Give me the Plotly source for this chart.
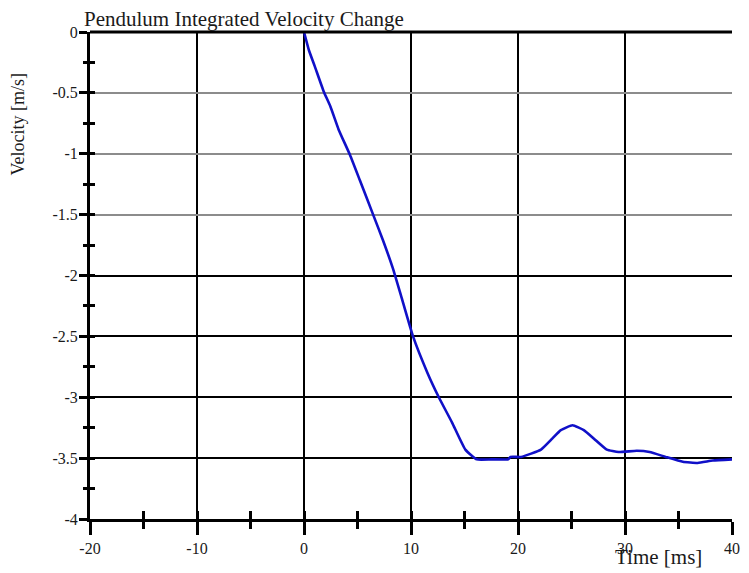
import plotly.graph_objects as go

# Data
time_ms = [0, 0.46, 1.0, 1.85, 2.46, 3.23, 4.3, 5.23, 6.46, 7.38, 8.3, 9.08, 10.15,
           11.54, 12.6, 13.85, 15.08, 16.15, 17.5, 19.08, 19.3, 20.3, 22.15, 23.2, 24.0,
           25.1, 26.15, 27.1, 28.3, 29.4, 31.1, 32.3, 33.8, 35.4, 36.8, 38.2, 40.0]
velocity = [0, -0.15, -0.28, -0.49, -0.61, -0.80, -1.01, -1.22, -1.50, -1.71, -1.94,
            -2.17, -2.49, -2.80, -3.00, -3.21, -3.43, -3.51, -3.51, -3.51, -3.49, -3.49,
            -3.43, -3.34, -3.27, -3.23, -3.27, -3.34, -3.43, -3.45, -3.44, -3.45, -3.49,
            -3.53, -3.54, -3.52, -3.51]

x_ticks = [-20, -10, 0, 10, 20, 30, 40]
y_ticks = [0, -0.5, -1, -1.5, -2, -2.5, -3, -3.5, -4]
y_dark_grid = [-2, -2.5, -3, -3.5]

title_text = "Pendulum Integrated Velocity Change"
x_title = "Time [ms]"
y_title = "Velocity [m/s]"

FONT = "Liberation Serif, Times New Roman, serif"

fig = go.Figure()
fig.add_trace(go.Scatter(x=time_ms, y=velocity, mode="lines",
                         line=dict(color="#1010c8", width=2.6, shape="spline", smoothing=0.4),
                         showlegend=False, hoverinfo="skip"))
# helper empty traces so the overlay axes are drawn
fig.add_trace(go.Scatter(x=[], y=[], xaxis="x2", yaxis="y2", showlegend=False))
fig.add_trace(go.Scatter(x=[], y=[], xaxis="x", yaxis="y3", showlegend=False))

fig.update_layout(
    width=741, height=565,
    margin=dict(l=82, r=9, t=24, b=54),
    paper_bgcolor="white", plot_bgcolor="white",
    font=dict(family=FONT, color="#1a1a1a", size=16),
    xaxis=dict(range=[-20, 40], tickvals=x_ticks, ticktext=[str(v) for v in x_ticks],
               showline=True, linecolor="black", linewidth=3,
               ticks="outside", ticklen=13, tickwidth=3, tickcolor="black",
               minor=dict(dtick=5, tick0=0, ticks="outside", ticklen=7, tickwidth=3,
                          tickcolor="black", showgrid=False),
               showgrid=True, gridcolor="black", gridwidth=2, zeroline=False,
               tickfont=dict(family=FONT, size=16, color="#1a1a1a")),
    xaxis2=dict(range=[-20, 40], overlaying="x", side="bottom", anchor="y",
                dtick=5, tick0=0, ticks="inside", ticklen=8, tickwidth=3,
                tickcolor="black", showticklabels=False, showgrid=False,
                zeroline=False, showline=False),
    yaxis=dict(range=[-4, 0], tickvals=y_ticks, ticktext=[("%g" % v) for v in y_ticks],
               showline=True, linecolor="black", linewidth=3,
               ticks="outside", ticklen=8, tickwidth=3, tickcolor="black",
               minor=dict(dtick=0.25, tick0=0, ticks="outside", ticklen=4,
                          tickwidth=3, tickcolor="black", showgrid=False),
               showgrid=True, gridcolor="#8c8c8c", gridwidth=1.5, zeroline=False,
               ticklabelstandoff=-2,
               tickfont=dict(family=FONT, size=16, color="#1a1a1a")),
    yaxis2=dict(range=[-4, 0], overlaying="y", side="left", anchor="x",
                dtick=0.25, tick0=0, ticks="inside", ticklen=5, tickwidth=3,
                tickcolor="black", showticklabels=False, showgrid=False,
                zeroline=False, showline=False),
    yaxis3=dict(range=[-4, 0], overlaying="y", side="left", anchor="x",
                tickvals=y_dark_grid, ticks="", showticklabels=False,
                showgrid=True, gridcolor="black", gridwidth=1.5,
                zeroline=False, showline=False),
    shapes=[dict(type="line", xref="paper", yref="paper", x0=0, x1=1, y0=1, y1=1,
                 line=dict(color="black", width=3))],
    annotations=[
        dict(text=title_text, xref="paper", yref="paper", x=-0.012, y=1,
             xanchor="left", yanchor="bottom", yshift=-1, showarrow=False,
             font=dict(family=FONT, size=21, color="#1a1a1a")),
        dict(text=x_title, xref="paper", yref="paper", x=0.885, y=0,
             xanchor="center", yanchor="top", yshift=-24, showarrow=False,
             font=dict(family=FONT, size=21, color="#1a1a1a")),
        dict(text=y_title, xref="paper", yref="paper", x=0, y=0.81,
             xanchor="center", yanchor="middle", xshift=-72, textangle=-90,
             showarrow=False, font=dict(family=FONT, size=18, color="#1a1a1a")),
    ],
)

fig.write_html("out.html")
